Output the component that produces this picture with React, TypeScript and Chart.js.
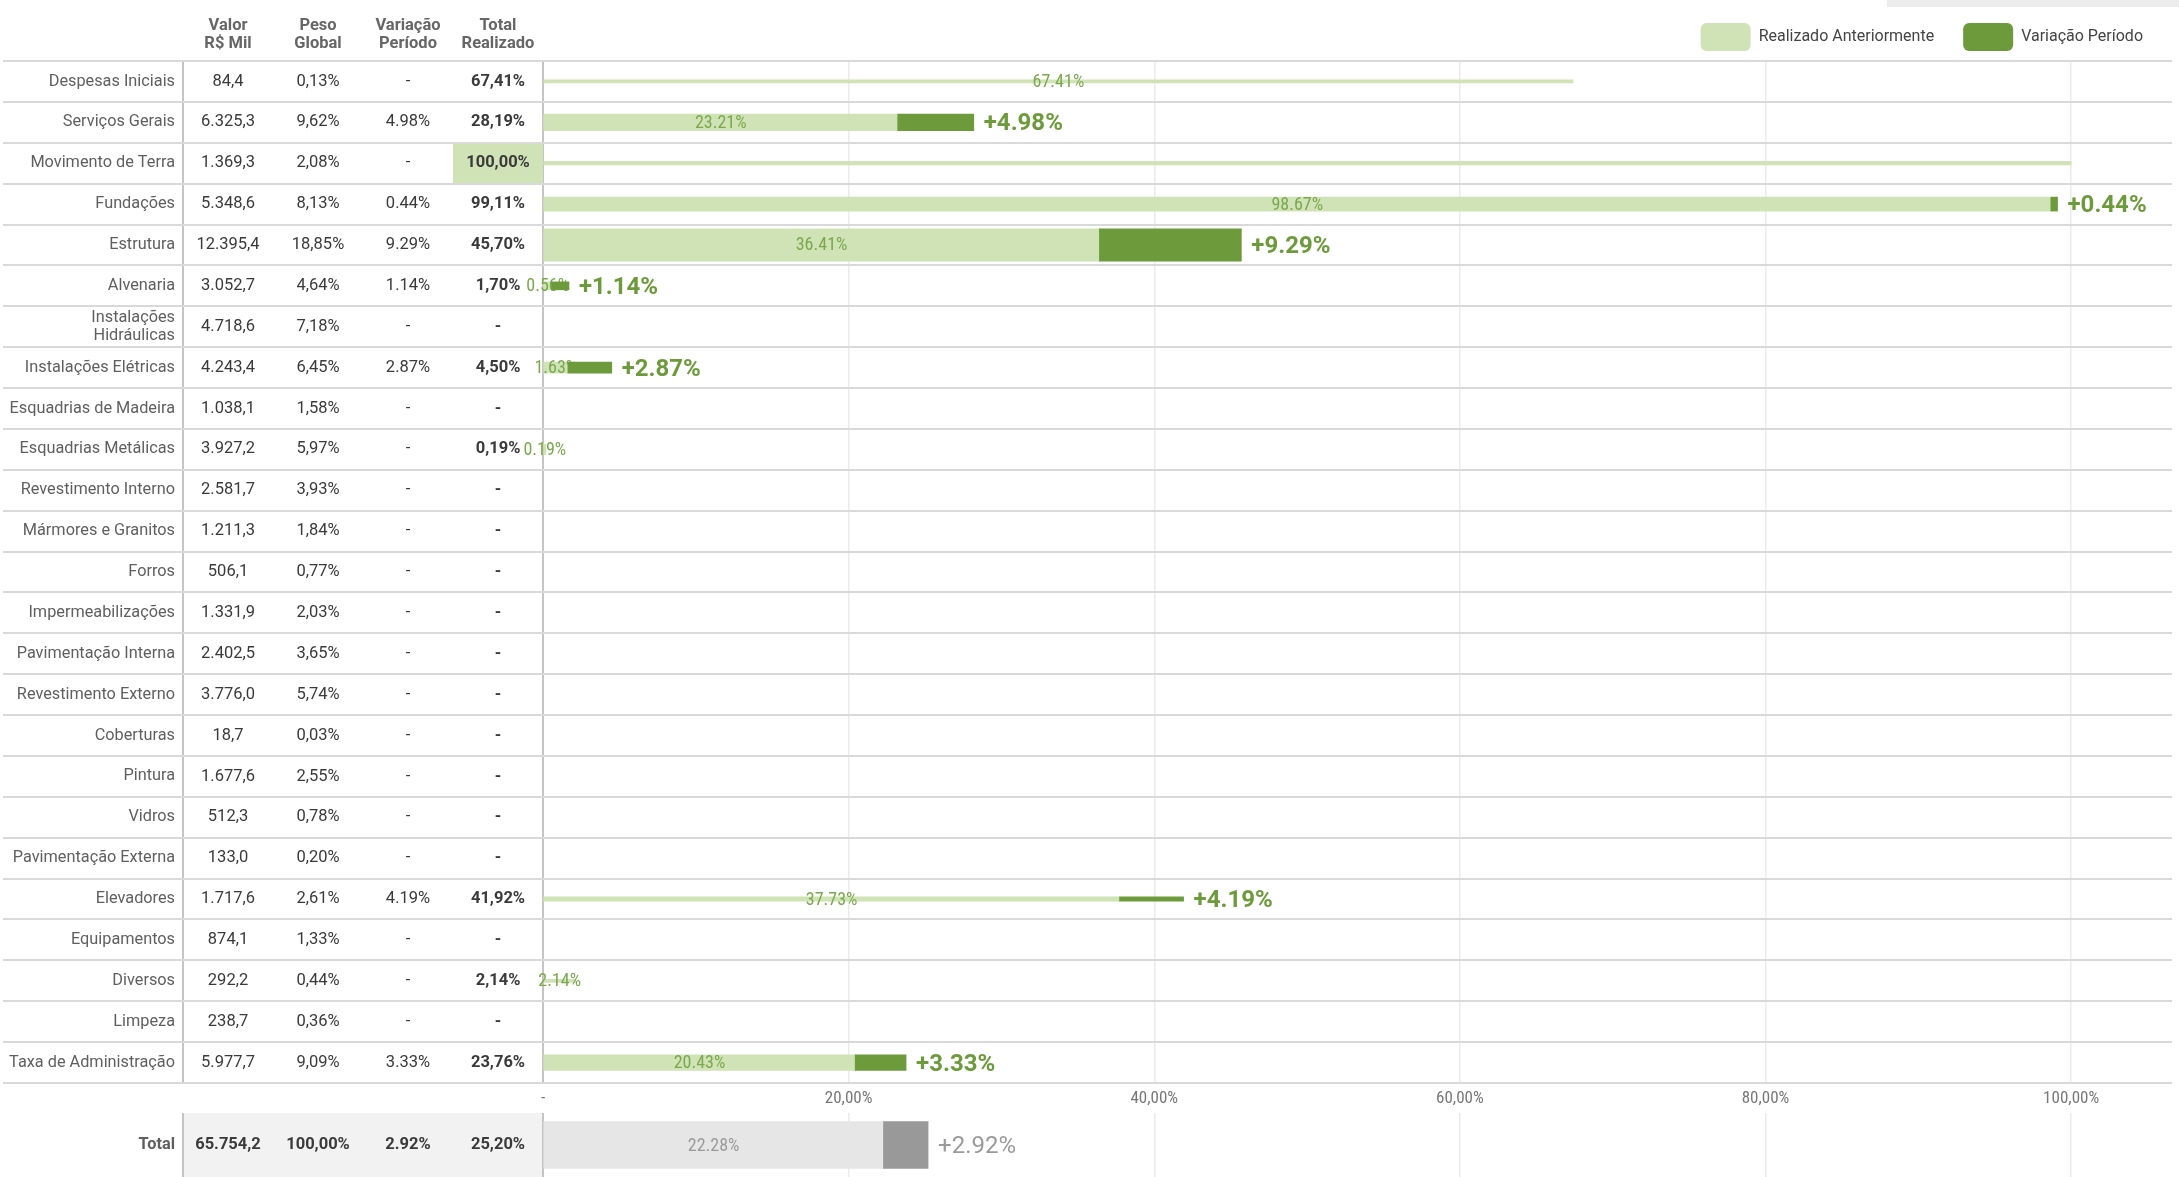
import React, { useEffect, useRef } from 'react';
import { Chart, registerables } from 'chart.js';

Chart.register(...registerables);

// ---------------- DATA ----------------
const categories: (string | string[])[] = [
  'Despesas Iniciais', 'Serviços Gerais', 'Movimento de Terra', 'Fundações', 'Estrutura', 'Alvenaria',
  ['Instalações', 'Hidráulicas'], 'Instalações Elétricas', 'Esquadrias de Madeira', 'Esquadrias Metálicas',
  'Revestimento Interno', 'Mármores e Granitos', 'Forros', 'Impermeabilizações', 'Pavimentação Interna',
  'Revestimento Externo', 'Coberturas', 'Pintura', 'Vidros', 'Pavimentação Externa', 'Elevadores',
  'Equipamentos', 'Diversos', 'Limpeza', 'Taxa de Administração',
];
const valorMil = [
  '84,4', '6.325,3', '1.369,3', '5.348,6', '12.395,4', '3.052,7', '4.718,6', '4.243,4', '1.038,1', '3.927,2',
  '2.581,7', '1.211,3', '506,1', '1.331,9', '2.402,5', '3.776,0', '18,7', '1.677,6', '512,3', '133,0',
  '1.717,6', '874,1', '292,2', '238,7', '5.977,7',
];
const pesoGlobal = [
  0.13, 9.62, 2.08, 8.13, 18.85, 4.64, 7.18, 6.45, 1.58, 5.97, 3.93, 1.84, 0.77, 2.03, 3.65, 5.74, 0.03, 2.55,
  0.78, 0.2, 2.61, 1.33, 0.44, 0.36, 9.09,
];
const variacaoPeriodo: (number | null)[] = [
  null, 4.98, null, 0.44, 9.29, 1.14, null, 2.87, null, null, null, null, null, null, null, null, null, null,
  null, null, 4.19, null, null, null, 3.33,
];
const realizadoAnterior: (number | null)[] = [
  67.41, 23.21, 100, 98.67, 36.41, 0.56, null, 1.63, null, 0.19, null, null, null, null, null, null, null, null,
  null, null, 37.73, null, 2.14, null, 20.43,
];
const xTickLabels = ['-', '20,00%', '40,00%', '60,00%', '80,00%', '100,00%'];
const headerLines = [['Valor', 'R$ Mil'], ['Peso', 'Global'], ['Variação', 'Período'], ['Total', 'Realizado']];
const legendLabels = ['Realizado Anteriormente', 'Variação Período'];

const totalLabel = 'Total';
const totalValor = '65.754,2';
const totalPeso = 100;
const totalVariacao = 2.92;
const totalAnterior = 22.28;

// ---------------- STYLE ----------------
const W = 2179;
const H = 1177;
const HA = 1113;
const FONT = "Roboto, 'Noto Sans', sans-serif";
const NARROW = "'Roboto Condensed', 'Liberation Sans Narrow', 'Arial Narrow', Roboto, sans-serif";
const LIGHT_GREEN = '#d0e3b6';
const DARK_GREEN = '#6d9b3b';
const PRIOR_LABEL = '#7aa84c';
const LINE = '#d9d9d9';
const BORDER = '#c4c4c4';
const GRID = '#ebebeb';
const X_MAX = 106.6;
const LEGEND_PAD = 29;

const fmtComma = (v: number) => v.toFixed(2).replace('.', ',') + '%';
const fmtDot = (v: number) => v.toFixed(2) + '%';
const thickness = (p: number) => Math.max(3, p * 1.72);

const colAxis = (weight: number, width: number, extra: any = {}) => ({
  type: 'category',
  position: 'left',
  weight,
  offset: true,
  display: true,
  grid: { display: false, drawTicks: false },
  border: { display: false },
  ticks: { display: false },
  afterFit: (s: any) => {
    s.width = width;
    s.paddingTop = 0;
    s.paddingBottom = 0;
  },
  ...extra,
});

const xAxis = (showTicks: boolean) => ({
  type: 'linear',
  position: 'bottom',
  min: 0,
  max: X_MAX,
  grid: { color: GRID, lineWidth: 1.5, drawTicks: false },
  border: { display: false },
  ticks: {
    display: showTicks,
    stepSize: 20,
    includeBounds: false,
    autoSkip: false,
    maxRotation: 0,
    padding: 6,
    color: '#777',
    font: { family: NARROW, size: 17 },
    callback: (v: any) => xTickLabels[Math.round(Number(v) / 20)] ?? '',
  },
  afterFit: (s: any) => {
    s.height = showTicks ? 30 : 0;
    s.paddingLeft = 0;
    s.paddingRight = 0;
  },
});

function yScales(labelFontWeight: string | number) {
  return {
    yLabel: colAxis(5, 183, {
      ticks: {
        display: true,
        autoSkip: false,
        padding: 8,
        color: '#5f5f5f',
        font: { family: FONT, size: 16.3, lineHeight: 1.1, weight: labelFontWeight },
      },
      border: { display: true, color: BORDER, width: 2 },
    }),
    yValor: colAxis(4, 90),
    yPeso: colAxis(3, 90),
    yVar: colAxis(2, 90),
    y: colAxis(1, 90, { z: 1, border: { display: true, color: BORDER, width: 2 } }),
  };
}

type Col = { axis: string; texts: string[]; bold: boolean };

function tablePlugin(cols: Col[], o: { rowLines: boolean; highlight?: boolean[]; headers?: string[][]; grayBg?: boolean }) {
  return {
    id: 'tableText',
    beforeDraw(chart: any) {
      if (!o.grayBg) return;
      const ctx = chart.ctx;
      const ca = chart.chartArea;
      const left = chart.scales.yLabel.right;
      ctx.save();
      ctx.fillStyle = '#f2f2f2';
      ctx.fillRect(left, ca.top, ca.left - left, ca.bottom - ca.top);
      ctx.restore();
    },
    beforeDatasetsDraw(chart: any) {
      const ctx = chart.ctx;
      const ca = chart.chartArea;
      const ys = chart.scales.y;
      const n = chart.data.labels.length;
      ctx.save();
      if (o.highlight) {
        o.highlight.forEach((h, i) => {
          if (!h) return;
          const t = ys.getPixelForValue(i - 0.5);
          const b = ys.getPixelForValue(i + 0.5);
          ctx.fillStyle = LIGHT_GREEN;
          ctx.fillRect(ys.left, t, ys.right - ys.left, b - t);
        });
      }
      if (o.rowLines) {
        ctx.strokeStyle = LINE;
        ctx.lineWidth = 2;
        for (let i = 0; i <= n; i++) {
          const y = Math.round(ys.getPixelForValue(i - 0.5));
          ctx.beginPath();
          ctx.moveTo(3, y);
          ctx.lineTo(ca.right, y);
          ctx.stroke();
        }
      }
      ctx.textAlign = 'center';
      ctx.textBaseline = 'middle';
      cols.forEach((c) => {
        const s = chart.scales[c.axis];
        const cx = (s.left + s.right) / 2;
        ctx.fillStyle = '#3a3a3a';
        ctx.font = `${c.bold ? 'bold ' : ''}16.5px ${FONT}`;
        c.texts.forEach((t, i) => ctx.fillText(t, cx, ys.getPixelForValue(i)));
      });
      if (o.headers) {
        ctx.fillStyle = '#666';
        ctx.font = `bold 16.5px ${FONT}`;
        o.headers.forEach((lines, k) => {
          const s = chart.scales[cols[k].axis];
          const cx = (s.left + s.right) / 2;
          ctx.fillText(lines[0], cx, ca.top - 35);
          ctx.fillText(lines[1], cx, ca.top - 17);
        });
      }
      ctx.restore();
    },
  };
}

function barLabelPlugin(priorColor: string, varColor: string, varWeight: string) {
  return {
    id: 'barLabels',
    afterDatasetDraw(chart: any, args: any) {
      const ds: any = chart.data.datasets[args.index];
      if (ds.kind !== 'prior' || !ds.showLabel) return;
      const el: any = args.meta.data[ds.row];
      if (!el) return;
      const ctx = chart.ctx;
      ctx.save();
      ctx.fillStyle = priorColor;
      ctx.font = `18px ${NARROW}`;
      ctx.textAlign = 'center';
      ctx.textBaseline = 'middle';
      ctx.fillText(ds.labelText, (el.x + el.base) / 2, el.y + 1);
      ctx.restore();
    },
    afterDatasetsDraw(chart: any) {
      const ctx = chart.ctx;
      ctx.save();
      ctx.fillStyle = varColor;
      ctx.font = `${varWeight} 24px ${FONT}`;
      ctx.textAlign = 'left';
      ctx.textBaseline = 'middle';
      chart.data.datasets.forEach((ds: any, k: number) => {
        if (ds.kind !== 'var') return;
        const el: any = chart.getDatasetMeta(k).data[ds.row];
        if (!el) return;
        ctx.fillText(ds.labelText, el.x + 10, el.y + 2);
      });
      ctx.restore();
    },
  };
}

function buildConfigA(): any {
  const datasets: any[] = [];
  categories.forEach((_, i) => {
    const p = realizadoAnterior[i];
    const v = variacaoPeriodo[i];
    if (p == null || v == null) return;
    datasets.push({
      kind: 'var', row: i, labelText: '+' + fmtDot(v),
      data: categories.map((__, j) => (j === i ? [p, p + v] : null)),
      backgroundColor: DARK_GREEN, barThickness: thickness(pesoGlobal[i]), grouped: false,
      xAxisID: 'x', yAxisID: 'y', borderWidth: 0,
    });
  });
  categories.forEach((_, i) => {
    const p = realizadoAnterior[i];
    if (p == null) return;
    datasets.push({
      kind: 'prior', row: i, labelText: fmtDot(p), showLabel: p < 100,
      data: categories.map((__, j) => (j === i ? [0, p] : null)),
      backgroundColor: LIGHT_GREEN, barThickness: thickness(pesoGlobal[i]), grouped: false,
      xAxisID: 'x', yAxisID: 'y', borderWidth: 0,
    });
  });
  const totals = categories.map((_, i) => {
    const p = realizadoAnterior[i];
    return p == null ? null : p + (variacaoPeriodo[i] ?? 0);
  });
  const cols: Col[] = [
    { axis: 'yValor', texts: valorMil, bold: false },
    { axis: 'yPeso', texts: pesoGlobal.map(fmtComma), bold: false },
    { axis: 'yVar', texts: variacaoPeriodo.map((v) => (v == null ? '-' : fmtDot(v))), bold: false },
    { axis: 'y', texts: totals.map((t) => (t == null ? '-' : fmtComma(t))), bold: true },
  ];
  return {
    type: 'bar',
    data: { labels: categories, datasets },
    options: {
      indexAxis: 'y',
      animation: false,
      responsive: false,
      devicePixelRatio: 1,
      events: [],
      layout: { padding: { left: 0, right: 7, top: 61 - 38 - LEGEND_PAD, bottom: 0 } },
      scales: { x: xAxis(true), ...yScales('normal') },
      plugins: {
        tooltip: { enabled: false },
        legend: {
          display: true,
          position: 'top',
          align: 'end',
          labels: {
            boxWidth: 50,
            boxHeight: 28,
            padding: LEGEND_PAD,
            useBorderRadius: true,
            borderRadius: 6,
            color: '#444',
            font: { family: FONT, size: 16 },
            generateLabels: () => [
              { text: legendLabels[0], fillStyle: LIGHT_GREEN, strokeStyle: LIGHT_GREEN, lineWidth: 0, hidden: false, datasetIndex: 0, fontColor: '#444', borderRadius: 6 },
              { text: legendLabels[1], fillStyle: DARK_GREEN, strokeStyle: DARK_GREEN, lineWidth: 0, hidden: false, datasetIndex: 1, fontColor: '#444', borderRadius: 6 },
            ],
          },
        },
      },
    },
    plugins: [
      tablePlugin(cols, { rowLines: true, highlight: totals.map((t) => t != null && t >= 100), headers: headerLines }),
      barLabelPlugin(PRIOR_LABEL, DARK_GREEN, 'bold'),
    ],
  };
}

function buildConfigB(): any {
  const datasets = [
    {
      kind: 'var', row: 0, labelText: '+' + fmtDot(totalVariacao),
      data: [[totalAnterior, totalAnterior + totalVariacao]],
      backgroundColor: '#999999', barThickness: 47, grouped: false, xAxisID: 'x', yAxisID: 'y', borderWidth: 0,
    },
    {
      kind: 'prior', row: 0, labelText: fmtDot(totalAnterior), showLabel: true,
      data: [[0, totalAnterior]],
      backgroundColor: '#e6e6e6', barThickness: 47, grouped: false, xAxisID: 'x', yAxisID: 'y', borderWidth: 0,
    },
  ];
  const cols: Col[] = [
    { axis: 'yValor', texts: [totalValor], bold: true },
    { axis: 'yPeso', texts: [fmtComma(totalPeso)], bold: true },
    { axis: 'yVar', texts: [fmtDot(totalVariacao)], bold: true },
    { axis: 'y', texts: [fmtComma(totalAnterior + totalVariacao)], bold: true },
  ];
  return {
    type: 'bar',
    data: { labels: [totalLabel], datasets },
    options: {
      indexAxis: 'y',
      animation: false,
      responsive: false,
      devicePixelRatio: 1,
      events: [],
      layout: { padding: { left: 0, right: 7, top: 0, bottom: 0 } },
      scales: { x: xAxis(false), ...yScales('bold') },
      plugins: { tooltip: { enabled: false }, legend: { display: false } },
    },
    plugins: [tablePlugin(cols, { rowLines: false, grayBg: true }), barLabelPlugin('#9a9a9a', '#9a9a9a', 'normal')],
  };
}

export default function App() {
  const refA = useRef<HTMLCanvasElement>(null);
  const refB = useRef<HTMLCanvasElement>(null);
  useEffect(() => {
    const a = new Chart(refA.current as HTMLCanvasElement, buildConfigA());
    const b = new Chart(refB.current as HTMLCanvasElement, buildConfigB());
    return () => {
      a.destroy();
      b.destroy();
    };
  }, []);
  return (
    <div style={{ position: 'absolute', left: 0, top: 0, width: W, height: H, background: '#fff', overflow: 'hidden' }}>
      <div style={{ position: 'absolute', left: 1887, top: 0, width: 292, height: 7, background: '#ececec' }} />
      <canvas ref={refA} width={W} height={HA} style={{ position: 'absolute', left: 0, top: 0 }} />
      <canvas ref={refB} width={W} height={H - HA} style={{ position: 'absolute', left: 0, top: HA }} />
    </div>
  );
}
